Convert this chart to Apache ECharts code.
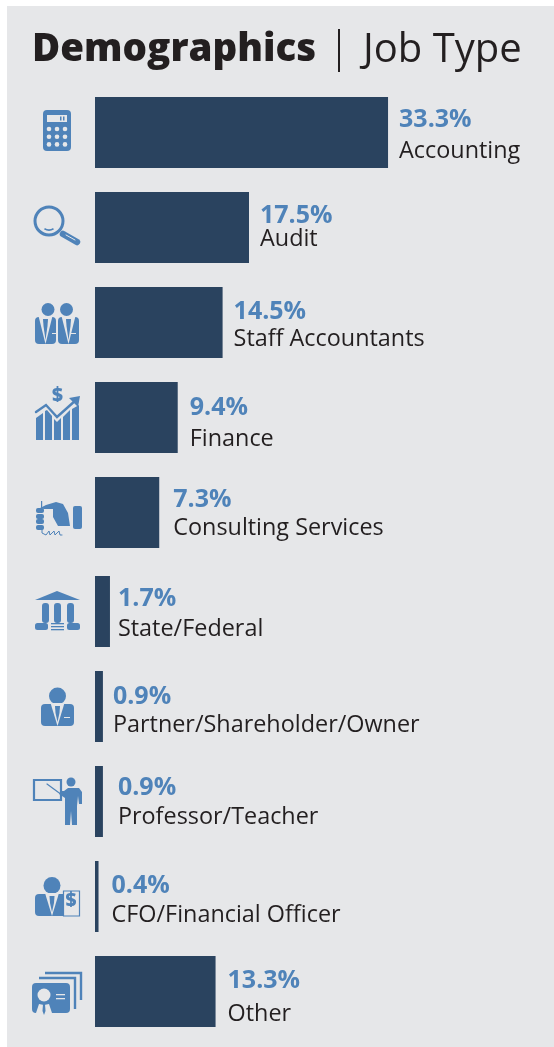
<!DOCTYPE html>
<html><head><meta charset="utf-8">
<style>html,body{margin:0;padding:0;background:#fff}#c{width:554px;height:1047px}</style>
<script src="https://cdn.jsdelivr.net/npm/echarts@6/dist/echarts.min.js"></script>
</head><body><div id="c"></div>
<script>
const categories=['Accounting','Audit','Staff Accountants','Finance','Consulting Services','State/Federal','Partner/Shareholder/Owner','Professor/Teacher','CFO/Financial Officer','Other'];
const percentLabels=['33.3%','17.5%','14.5%','9.4%','7.3%','1.7%','0.9%','0.9%','0.4%','13.3%'];
// bar lengths as drawn in the picture (the "Other" bar is drawn a little longer than its printed 13.3%)
const barValues=[33.3,17.5,14.5,9.4,7.3,1.7,0.9,0.9,0.4,13.7];
const pctNudge=[[11,-13],[11,-12],[11,-11],[12,-10],[14,-13],[8,-13],[10,-10],[15,-14],[13,-11],[12,-11]];
const nameNudge=[[11,19],[11,12],[11,17],[12,22],[14,16],[8,18],[10,19],[15,16],[13,19],[12,23]];
const BLUE='#4f83b9',NAVY='#2a435f',INK='#231f20',BG='#e6e7e9';
const chart=echarts.init(document.getElementById('c'),null,{renderer:'canvas'});
const FONT='"Open Sans","Noto Sans",sans-serif';
function r(x,y,w,h,rad,fill){return{type:'rect',shape:{x,y,width:w,height:h,r:rad||0},style:{fill:fill||BLUE}}}
function c(cx,cy,rad,fill){return{type:'circle',shape:{cx,cy,r:rad},style:{fill:fill||BLUE}}}
function p(points,fill){return{type:'polygon',shape:{points},style:{fill:fill||BLUE}}}
function l(points,w,col){return{type:'polyline',shape:{points},style:{stroke:col||BLUE,lineWidth:w||2,fill:'none',lineCap:'round'}}}
function g(x,y,children){return{type:'group',x,y,children}}
function suit(x,y,w,h){
  return [r(x,y,w,h,4),p([[x+w/2-7,y-1],[x+w/2+7,y-1],[x+w/2,y+h]],BG),p([[x+w/2-2.5,y+2],[x+w/2+2.5,y+2],[x+w/2+2,y+9],[x+w/2,y+h-4],[x+w/2-2,y+9]])];
}
const calc=[];calc.push(r(0,0,28,41,4),r(4,5,20,7,0,BG),r(17,6.5,1.5,4,0),r(20,6.5,1.5,4,0));
[0,1,2].forEach(i=>[0,1,2].forEach(j=>calc.push(c(6+j*8,19+i*7.7,2.3,BG))));
const icons=[
 g(43,110,calc),
 g(34,205,[{type:'circle',shape:{cx:15,cy:16,r:14},style:{fill:'none',stroke:BLUE,lineWidth:3}},
   {type:'arc',shape:{cx:15,cy:16,r:9,startAngle:1.05,endAngle:2.1},style:{stroke:BLUE,lineWidth:1.6,fill:'none'}},
   l([[29,29],[43,37]],6.5),l([[32,30],[41,35]],1,BG)]),
 g(35,303,[c(13,6.5,6.5),c(31.5,6.5,6.5),...suit(0,14,21,27),...suit(23,14,21,27),r(17,30,5,1,0,BG),r(36,30,5,1,0,BG)]),
 g(36,395,[p([[0,23],[7,18],[7,45],[0,45]]),p([[9,16],[11,15],[16,21],[16,45],[9,45]]),p([[18,24],[21,27],[25,23],[25,45],[18,45]]),p([[27,22],[34,15],[34,45],[27,45]]),p([[36,14],[43,10],[43,45],[36,45]]),
   l([[0,17],[10,10],[21,22],[40,5]],2.4),p([[33,3],[44,1],[42,12]]),
   {type:'text',x:16,y:-9,style:{text:'$',fill:BLUE,font:'800 19px '+FONT}}]),
 g(36,491,[r(37,15,9,23,2),p([[4,17],[10,14],[20,11],[27,13],[32,22],[34,35],[22,35],[17,26],[17,18],[8,18]]),
   r(5,10,1.2,11),r(0,17,8,5,2),r(0,23,8,5,2),r(0,28,8,5,2),r(0,34,8,5,2),
   l([[6,36],[6,42],[10,44],[13,40],[14,44],[18,40],[19,44],[23,40],[24,44],[26,44]],1)]),
 g(35,591,[p([[22,0],[45,9],[0,9]]),r(7,12,7,20,3),r(19,12,7,20,3),r(32,12,7,20,3),
   r(0,32,13,7,2.5),r(32,32,13,7,2.5),r(16,32,13,1.3),r(16,35,13,1.3),r(16,38,13,1.3)]),
 g(41,687,[c(16.5,9,8.5),...suit(0,17,33,22),r(23,30,6,1,0,BG)]),
 g(33,778,[{type:'rect',shape:{x:1,y:2,width:27,height:20},style:{fill:'none',stroke:BLUE,lineWidth:2.2}},
   l([[14,6],[29,17]],1.2),c(38,4,4.5),
   {type:'polygon',shape:{points:[[31,13],[35,10],[46,10],[49,14],[49,26],[46,26],[45,18],[44,28],[44,47],[39,47],[38,33],[37,47],[32,47],[32,20],[26,16],[28,13]]},style:{fill:BLUE}}]),
 g(35,877,[c(17,8.5,8.5),...suit(0,17,34,22),
   {type:'rect',shape:{x:28.5,y:14,width:16,height:25},style:{fill:BG,stroke:BLUE,lineWidth:1.2}},
   {type:'text',x:30.5,y:14.5,style:{text:'$',fill:BLUE,font:'800 19px '+FONT}}]),
 g(31,971,[
   {type:'polyline',shape:{points:[[14,2],[50,2],[50,29]]},style:{stroke:BLUE,lineWidth:2.4,fill:'none'}},
   {type:'polyline',shape:{points:[[8,7],[44,7],[44,38]]},style:{stroke:BLUE,lineWidth:2.4,fill:'none'}},
   r(1,12,38,30,4),c(13,24,6.5,BG),p([[5,42],[8,33],[13,34],[18,33],[21,42]],BG),p([[12,33],[14,33],[14.5,40],[13,44],[11.5,40]]),
   r(25,23,9,1.3,0,BG),r(25,27,9,1.3,0,BG)])
];
const bg=[
 {type:'rect',z:-1,shape:{x:7,y:6,width:547,height:1041},style:{fill:BG}},
 {type:'text',x:32,y:31,style:{text:'Demographics',fill:INK,font:'800 38.5px '+FONT,verticalAlign:'top'}},
 {type:'rect',shape:{x:338,y:29,width:2,height:43},style:{fill:INK}},
 {type:'text',x:363,y:31,style:{text:'Job Type',fill:INK,font:'400 40px '+FONT,verticalAlign:'top'}}
];
// the rows fall in two evenly spaced blocks: the gap before State/Federal is wider
const blocks=[[0,5],[5,10]];
const sliceLabel=(from,to,nudge,texts,color,weight,size)=>barValues.slice(from,to).map((v,k)=>({value:v,label:{show:true,position:'right',distance:0,offset:nudge[from+k],formatter:texts[from+k],color,fontFamily:FONT,fontWeight:weight,fontSize:size}}));
const series=[];
blocks.forEach(([a,b],gi)=>{
 series.push({type:'bar',xAxisIndex:gi,yAxisIndex:gi,barWidth:71,barGap:'-100%',itemStyle:{color:NAVY},silent:true,data:sliceLabel(a,b,pctNudge,percentLabels,BLUE,700,25)});
 series.push({type:'bar',xAxisIndex:gi,yAxisIndex:gi,barWidth:71,itemStyle:{color:'transparent'},silent:true,data:sliceLabel(a,b,nameNudge,categories,INK,400,23.4)});
});
chart.setOption({
 animation:false,
 grid:[{left:95,top:85,width:440,height:475},{left:95,top:564,width:440,height:475}],
 xAxis:blocks.map((_,i)=>({gridIndex:i,type:'value',min:0,max:50,show:false})),
 yAxis:blocks.map(([a,b],i)=>({gridIndex:i,type:'category',inverse:true,data:categories.slice(a,b),show:false})),
 series,
 graphic:{elements:[...bg,...icons]}
});
</script></body></html>
